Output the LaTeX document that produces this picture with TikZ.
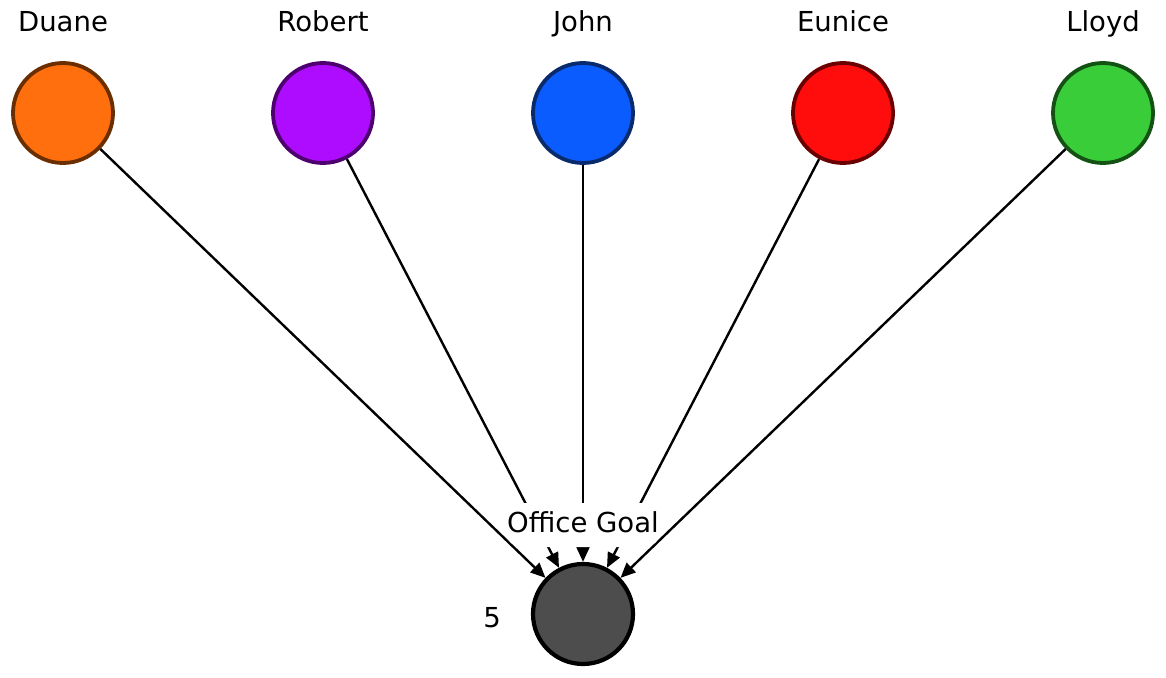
\documentclass[tikz,border=0pt]{standalone}
\usepackage{fontspec}
\setmainfont{DejaVu Sans}
\usetikzlibrary{arrows.meta}
\definecolor{duanefill}{HTML}{FF6F0E}
\definecolor{duaneline}{HTML}{6B2E00}
\definecolor{robertfill}{HTML}{AD0CFF}
\definecolor{robertline}{HTML}{4F0070}
\definecolor{johnfill}{HTML}{0B5CFF}
\definecolor{johnline}{HTML}{0A2A6E}
\definecolor{eunicefill}{HTML}{FF0D0D}
\definecolor{euniceline}{HTML}{6B0000}
\definecolor{lloydfill}{HTML}{3ACD3A}
\definecolor{lloydline}{HTML}{145214}
\definecolor{goalfill}{HTML}{4D4D4D}
\tikzset{
  agent/.style  ={circle, line width=3.8pt, minimum size=100pt, inner sep=0pt},
  goal/.style   ={circle, draw=black, fill=goalfill, line width=4.2pt, minimum size=100pt, inner sep=0pt},
  tagtext/.style={font=\fontsize{27.5}{32}\selectfont, inner sep=1pt, anchor=base},
  goaltag/.style={tagtext, fill=white, rounded corners=14pt, inner xsep=0.5pt, inner ysep=9pt, text height=20pt, text depth=6pt},
  link/.style   ={-{Triangle[length=15pt,width=13pt]}, line width=2.4pt, black},
}
\begin{document}
\begin{tikzpicture}[x=1pt, y=-1pt]
  \useasboundingbox (0,0) rectangle (1166,677);
  % people
  \node[agent, draw=duaneline, fill=duanefill] (duane) at (63,113) {};
  \node[agent, draw=robertline, fill=robertfill] (robert) at (323,113) {};
  \node[agent, draw=johnline, fill=johnfill] (john) at (583,113) {};
  \node[agent, draw=euniceline, fill=eunicefill] (eunice) at (843,113) {};
  \node[agent, draw=lloydline, fill=lloydfill] (lloyd) at (1103,113) {};
  \node[tagtext] (duanelbl) at (63,32) {Duane};
  \node[tagtext] (robertlbl) at (323,32) {Robert};
  \node[tagtext] (johnlbl) at (583,32) {John};
  \node[tagtext] (eunicelbl) at (843,32) {Eunice};
  \node[tagtext] (lloydlbl) at (1103,32) {Lloyd};
  % goal
  \node[goal] (office) at (583,614) {};
  \node[tagtext] (count) at (492,627) {5};
  \foreach \p in {duane, robert, john, eunice, lloyd}
    \draw[link] (\p) -- (office);
  \node[goaltag] (officelbl) at (583,532) {Office Goal};
\end{tikzpicture}
\end{document}
